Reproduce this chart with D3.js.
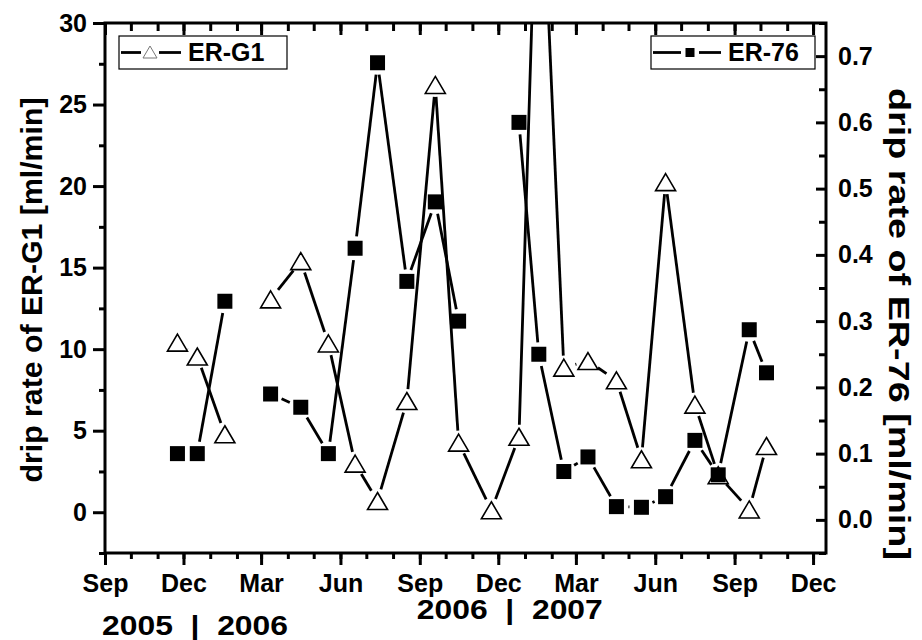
<!DOCTYPE html>
<html>
<head>
<meta charset="utf-8">
<script src="https://cdnjs.cloudflare.com/ajax/libs/d3/7.8.5/d3.min.js"></script>
<style>
  body { margin: 0; background: #fff; }
  svg text { font-family: "Liberation Sans", Arial, sans-serif; font-weight: bold; fill: #000; }
</style>
</head>
<body>
<div id="chart"></div>
<script>
// sampling dates (Feb 2006 has no sample for either cave)
const dates = ["2005-11-24", "2005-12-17", "2006-01-18", "2006-02-15", "2006-03-12", "2006-04-16",
  "2006-05-18", "2006-06-18", "2006-07-14", "2006-08-17", "2006-09-19", "2006-10-16",
  "2006-11-23", "2006-12-25", "2007-01-17", "2007-02-15", "2007-03-15", "2007-04-17",
  "2007-05-16", "2007-06-13", "2007-07-17", "2007-08-13", "2007-09-18", "2007-10-08"]

// ER-G1 drip rate [ml/min], left axis (Jan 2007 runs off the top)
const g1 = [10.4, 9.55, 4.78, null, 13.05, 15.4, 10.35, 2.98, 0.69, 6.82, 26.2, 4.27,
  0.12, 4.63, 44, 8.87, 9.27, 8.09, 3.25, 20.24, 6.6, 2.27, 0.17, 4.06]

// ER-76 drip rate [ml/min], right axis
const er76 = [0.10, 0.10, 0.33, null, 0.19, 0.17, 0.10, 0.41, 0.69, 0.36, 0.48, 0.30,
  null, 0.60, 0.25, 0.073, 0.095, 0.020, 0.019, 0.035, 0.12, 0.068, 0.287, 0.222]

const xMajorTicks = ["2005-09-01", "2005-12-01", "2006-03-01", "2006-06-01", "2006-09-01",
  "2006-12-01", "2007-03-01", "2007-06-01", "2007-09-01", "2007-12-01"]
const leftTicks = [0, 5, 10, 15, 20, 25, 30]
const leftMinor = [-2.5, 2.5, 7.5, 12.5, 17.5, 22.5, 27.5]
const rightTicks = [0, 0.1, 0.2, 0.3, 0.4, 0.5, 0.6, 0.7]
const rightMinor = [-0.05, 0.05, 0.15, 0.25, 0.35, 0.45, 0.55, 0.65, 0.75]
const yearLabels = ["2005  |  2006", "2006  |  2007"]

// consts
const width = 922, height = 640
const plotL = 105, plotR = 826, plotT = 23, plotB = 553
const gap = 12
const parse = d3.timeParse("%Y-%m-%d")

const x = d3.scaleTime()
  .domain([parse("2005-09-01"), parse("2007-12-16")])
  .range([plotL, plotR])
const yL = d3.scaleLinear().domain([-2.5, 30]).range([plotB, plotT])
const yR = d3.scaleLinear().domain([-0.05, 0.75]).range([plotB, plotT])

const svg = d3.select("#chart").append("svg")
  .attr("width", width)
  .attr("height", height)

svg.append("defs").append("clipPath").attr("id", "plot")
  .append("rect")
  .attr("x", plotL).attr("y", plotT)
  .attr("width", plotR - plotL).attr("height", plotB - plotT)

// helpers
const styleAxis = (g, size) => {
  g.select(".domain").remove()
  g.attr("font-family", null)
  g.selectAll(".tick line").attr("stroke", "#000").attr("stroke-width", 3)
  g.selectAll(".tick text").style("font-size", size + "px")
}
const triPath = "M0,-8.5L10,8.5L-10,8.5Z"

// axes
const months = d3.timeMonth.range(parse("2005-09-01"), parse("2007-12-02"))
const majorDates = xMajorTicks.map(parse)

svg.append("g").attr("transform", `translate(0,${plotB})`)
  .call(d3.axisBottom(x).tickValues(months).tickSize(6).tickFormat(""))
  .call(g => styleAxis(g, 25))
svg.append("g").attr("transform", `translate(0,${plotB})`)
  .call(d3.axisBottom(x).tickValues(majorDates).tickSize(12).tickPadding(9).tickFormat(d3.timeFormat("%b")))
  .call(g => styleAxis(g, 25))

svg.append("g").attr("transform", `translate(0,${plotT})`)
  .call(d3.axisBottom(x).tickValues(months).tickSize(8).tickFormat(""))
  .call(g => styleAxis(g, 25))
svg.append("g").attr("transform", `translate(0,${plotT})`)
  .call(d3.axisBottom(x).tickValues(majorDates).tickSize(12).tickFormat(""))
  .call(g => styleAxis(g, 25))

svg.append("g").attr("transform", `translate(${plotL},0)`)
  .call(d3.axisLeft(yL).tickValues(leftMinor).tickSize(6).tickFormat(""))
  .call(g => styleAxis(g, 25))
svg.append("g").attr("transform", `translate(${plotL},0)`)
  .call(d3.axisLeft(yL).tickValues(leftTicks).tickSize(12).tickPadding(6).tickFormat(d3.format("d")))
  .call(g => styleAxis(g, 25))

svg.append("g").attr("transform", `translate(${plotR},0)`)
  .call(d3.axisRight(yR).tickValues(rightMinor).tickSize(-7).tickFormat(""))
  .call(g => styleAxis(g, 25))
svg.append("g").attr("transform", `translate(${plotR},0)`)
  .call(d3.axisRight(yR).tickValues(rightTicks).tickSize(-10).tickPadding(12).tickFormat(d3.format(".1f")))
  .call(g => styleAxis(g, 25))

svg.append("rect")
  .attr("x", plotL).attr("y", plotT)
  .attr("width", plotR - plotL).attr("height", plotB - plotT)
  .attr("fill", "none").attr("stroke", "#000").attr("stroke-width", 3)

// titles
svg.append("text")
  .attr("transform", "translate(31,290) rotate(-90)")
  .attr("text-anchor", "middle").attr("dy", "0.35em")
  .style("font-size", "30px")
  .attr("textLength", 385).attr("lengthAdjust", "spacingAndGlyphs")
  .text("drip rate of ER-G1 [ml/min]")
svg.append("text")
  .attr("transform", "translate(899,324) rotate(90)")
  .attr("text-anchor", "middle").attr("dy", "0.35em")
  .style("font-size", "30px")
  .attr("textLength", 472).attr("lengthAdjust", "spacingAndGlyphs")
  .text("drip rate of ER-76 [ml/min]")

svg.selectAll(".year").data(yearLabels).enter()
  .append("text")
  .attr("class", "year")
  .attr("xml:space", "preserve")
  .attr("x", (d, i) => x(majorDates[i * 4]) - 3)
  .attr("y", (d, i) => i === 0 ? 635 : 619)
  .attr("textLength", 186).attr("lengthAdjust", "spacingAndGlyphs")
  .style("font-size", "27px")
  .text(d => d)

// series drawer
const plot = svg.append("g").attr("clip-path", "url(#plot)")
const drawSeries = (vals, yScale, marker) => {
  const pts = dates.map((d, i) => vals[i] == null ? null : [x(parse(d)), yScale(vals[i])])
  const segs = []
  for (let i = 1; i < pts.length; i++) {
    const a = pts[i - 1], b = pts[i]
    if (!a || !b) continue
    const dx = b[0] - a[0], dy = b[1] - a[1], len = Math.hypot(dx, dy)
    if (len <= 2 * gap) continue
    const ux = dx / len, uy = dy / len
    segs.push([a[0] + ux * gap, a[1] + uy * gap, b[0] - ux * gap, b[1] - uy * gap])
  }
  plot.append("g").selectAll("line")
    .data(segs).enter()
    .append("line")
    .attr("x1", d => d[0]).attr("y1", d => d[1])
    .attr("x2", d => d[2]).attr("y2", d => d[3])
    .attr("stroke", "#000").attr("stroke-width", 2.8)
  const m = plot.append("g").selectAll("path")
    .data(pts.filter(p => p)).enter()
  if (marker === "triangle") {
    m.append("path")
      .attr("d", triPath)
      .attr("transform", d => `translate(${d[0]},${d[1]})`)
      .attr("fill", "#fff").attr("stroke", "#000").attr("stroke-width", 1.6)
  } else {
    m.append("rect")
      .attr("x", d => d[0] - 7.5).attr("y", d => d[1] - 7.5)
      .attr("width", 15).attr("height", 15)
      .attr("fill", "#000")
  }
}
drawSeries(g1, yL, "triangle")
drawSeries(er76, yR, "square")

// legends
const legends = [
  { label: "ER-G1", marker: "triangle", x0: 119, x1: 287 },
  { label: "ER-76", marker: "square", x0: 651, x1: 815 }
]
legends.forEach(e => {
  const g = svg.append("g")
  g.append("rect")
    .attr("x", e.x0).attr("y", 36)
    .attr("width", e.x1 - e.x0).attr("height", 33)
    .attr("fill", "#fff").attr("stroke", "#000").attr("stroke-width", 1.2)
  const cx = e.x0 + (e.marker === "triangle" ? 31 : 39)
  g.append("line").attr("x1", e.x0 + 2).attr("x2", cx - 9).attr("y1", 52.5).attr("y2", 52.5)
    .attr("stroke", "#000").attr("stroke-width", 2.8)
  g.append("line").attr("x1", cx + 9).attr("x2", cx + 31).attr("y1", 52.5).attr("y2", 52.5)
    .attr("stroke", "#000").attr("stroke-width", 2.8)
  if (e.marker === "triangle") {
    g.append("path").attr("d", "M0,-6L7,6L-7,6Z")
      .attr("transform", `translate(${cx},52)`)
      .attr("fill", "#fff").attr("stroke", "#777").attr("stroke-width", 1)
  } else {
    g.append("rect").attr("x", cx - 4.5).attr("y", 48).attr("width", 9).attr("height", 9).attr("fill", "#000")
  }
  g.append("text")
    .attr("x", cx + 38).attr("y", 61)
    .style("font-size", "25px")
    .text(e.label)
})
</script>
</body>
</html>
